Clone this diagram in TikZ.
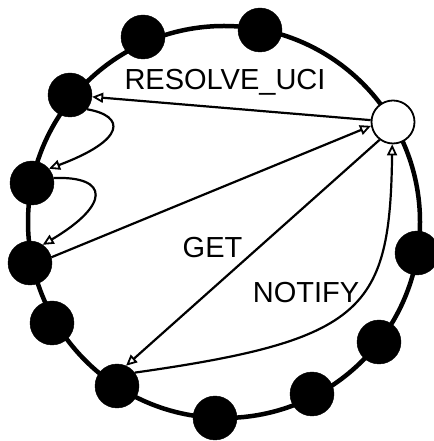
\documentclass[tikz,border=0pt]{standalone}
\usepackage{fontspec}
\setmainfont{Liberation Sans}
\usetikzlibrary{arrows.meta}
\begin{document}
\begin{tikzpicture}[x=1pt,y=1pt,
  peer/.style={circle,fill=black,draw=black,minimum size=44pt,inner sep=0pt},
  hub/.style={circle,fill=white,draw=black,line width=1.8pt,minimum size=43pt,inner sep=0pt},
  ring/.style={line width=4.5pt},
  msg/.style={line width=2.2pt,-{Triangle[open,length=11pt,width=10pt,line width=1.8pt]}},
  lbl/.style={anchor=base,inner sep=0pt,font=\fontsize{29}{32}\selectfont}]
\useasboundingbox (0,0) rectangle (433,441);
%ring
\coordinate (o) at (224,219);
\draw [ring] (o) circle (196);
%peers
\node [peer] (p1) at (143,404) {};
\node [peer] (p2) at (260,411) {};
\node [hub] (hub) at (393,319) {};
\node [peer] (p3) at (417,188) {};
\node [peer] (p4) at (379,99) {};
\node [peer] (p5) at (312,47) {};
\node [peer] (p6) at (215,23) {};
\node [peer] (p7) at (117,55) {};
\node [peer] (p8) at (52,118) {};
\node [peer] (p9) at (30,178) {};
\node [peer] (p10) at (32,258) {};
\node [peer] (p11) at (70,346) {};
%messages
\draw [msg] (hub) -- (p11);
\node [lbl] (lresolve) at (225,351) {RESOLVE\_UCI};
\draw [msg] (p11.-40) .. controls (126,325) and (126,301) .. (p10.40);
\draw [msg] (p10.13) .. controls (110,265) and (110,236) .. (p9.55);
\draw [msg] (p9.15) -- (hub.190);
\draw [msg] (hub.233) -- (p7.66);
\node [lbl] (lget) at (212.5,183) {GET};
\draw [msg] (p7.37) .. controls (365,101) and (390,131) .. (hub.268);
\node [lbl] (lnotify) at (306,138) {NOTIFY};
\end{tikzpicture}
\end{document}
